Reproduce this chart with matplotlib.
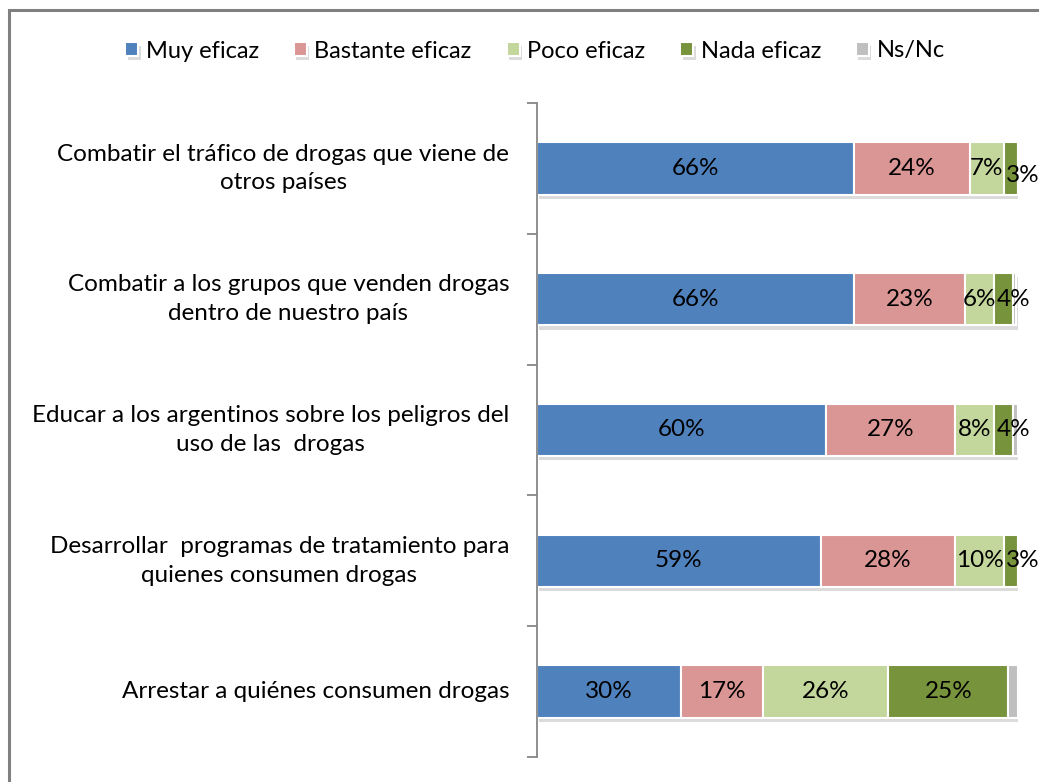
import matplotlib
matplotlib.use('Agg')
import matplotlib.pyplot as plt
import matplotlib.patheffects as pe
from matplotlib.patches import Rectangle

plt.rcParams['font.family'] = ['Lato', 'DejaVu Sans']

categories = [
    'Combatir el tráfico de drogas que viene de\notros países',
    'Combatir a los grupos que venden drogas\ndentro de nuestro país',
    'Educar a los argentinos sobre los peligros del\nuso de las  drogas',
    'Desarrollar  programas de tratamiento para\nquienes consumen drogas',
    'Arrestar a quiénes consumen drogas',
]
series = ['Muy eficaz', 'Bastante eficaz', 'Poco eficaz', 'Nada eficaz', 'Ns/Nc']
muy = [66, 66, 60, 59, 30]
bastante = [24, 23, 27, 28, 17]
poco = [7, 6, 8, 10, 26]
nada = [3, 4, 4, 3, 25]
nsnc = [1, 0.5, 1, 0.5, 2]
colors = ['#4F81BD', '#DA9694', '#C3D69B', '#77933C', '#BFBFBF']

W, H = 1039, 782
fig = plt.figure(figsize=(W / 100, H / 100), dpi=100)

# outer frame of the chart area (right and bottom edges are cut off)
fig.patches.append(Rectangle((9 / W, -0.2), 1.2, 1.2 - 10 / H, transform=fig.transFigure,
                             fill=False, edgecolor='#808080', linewidth=2.2))

ax = fig.add_axes([537 / W, 1 - 757 / H, 481 / W, 654 / H])
ax.set_xlim(0, 100)
ax.set_ylim(4.5, -0.5)

values = [muy, bastante, poco, nada, nsnc]
left = [0] * len(categories)
shadow = [pe.SimplePatchShadow(offset=(1.5, -3), shadow_rgbFace='#999999', alpha=0.35), pe.Normal()]
for idx, (name, vals, col) in enumerate(zip(series, values, colors)):
    bars = ax.barh(range(len(categories)), vals, left=left, height=0.4, color=col,
                   edgecolor='white', linewidth=1.5, label=name, zorder=2)
    for b in bars:
        b.set_path_effects(shadow)
    if idx < 4:
        for i, v in enumerate(vals):
            if idx == 3 and v < 5:
                # thin segment: label pushed to the right, as Excel does
                dy = -5 if i == 0 else 0
                ax.annotate(f'{v}%', xy=(left[i], i), xytext=(2, dy), textcoords='offset points',
                            ha='left', va='center', fontsize=17.5, color='black', zorder=3)
            else:
                ax.text(left[i] + v / 2, i, f'{v}%', ha='center', va='center',
                        fontsize=17.5, color='black', zorder=3)
    left = [l + v for l, v in zip(left, vals)]

for s in ['top', 'right', 'bottom']:
    ax.spines[s].set_visible(False)
ax.spines['left'].set_color('#868686')
ax.spines['left'].set_linewidth(1.3)
ax.set_xticks([])
ax.set_yticks([i - 0.5 for i in range(6)])
ax.set_yticklabels([])
ax.tick_params(axis='y', length=7, width=1.3, color='#868686', direction='out')

for i, c in enumerate(categories):
    ax.annotate(c, xy=(0, i), xycoords=('axes fraction', 'data'), xytext=(-20, 0),
                textcoords='offset points', ha='right', va='center', multialignment='center',
                fontsize=17.5, linespacing=1.45)

fig.legend(loc='center', bbox_to_anchor=(535 / W, 1 - 51 / H), ncol=5, frameon=False,
           fontsize=17, handlelength=0.55, handleheight=0.55, handletextpad=0.3,
           columnspacing=1.5)

fig.savefig('out.png', dpi=100)
